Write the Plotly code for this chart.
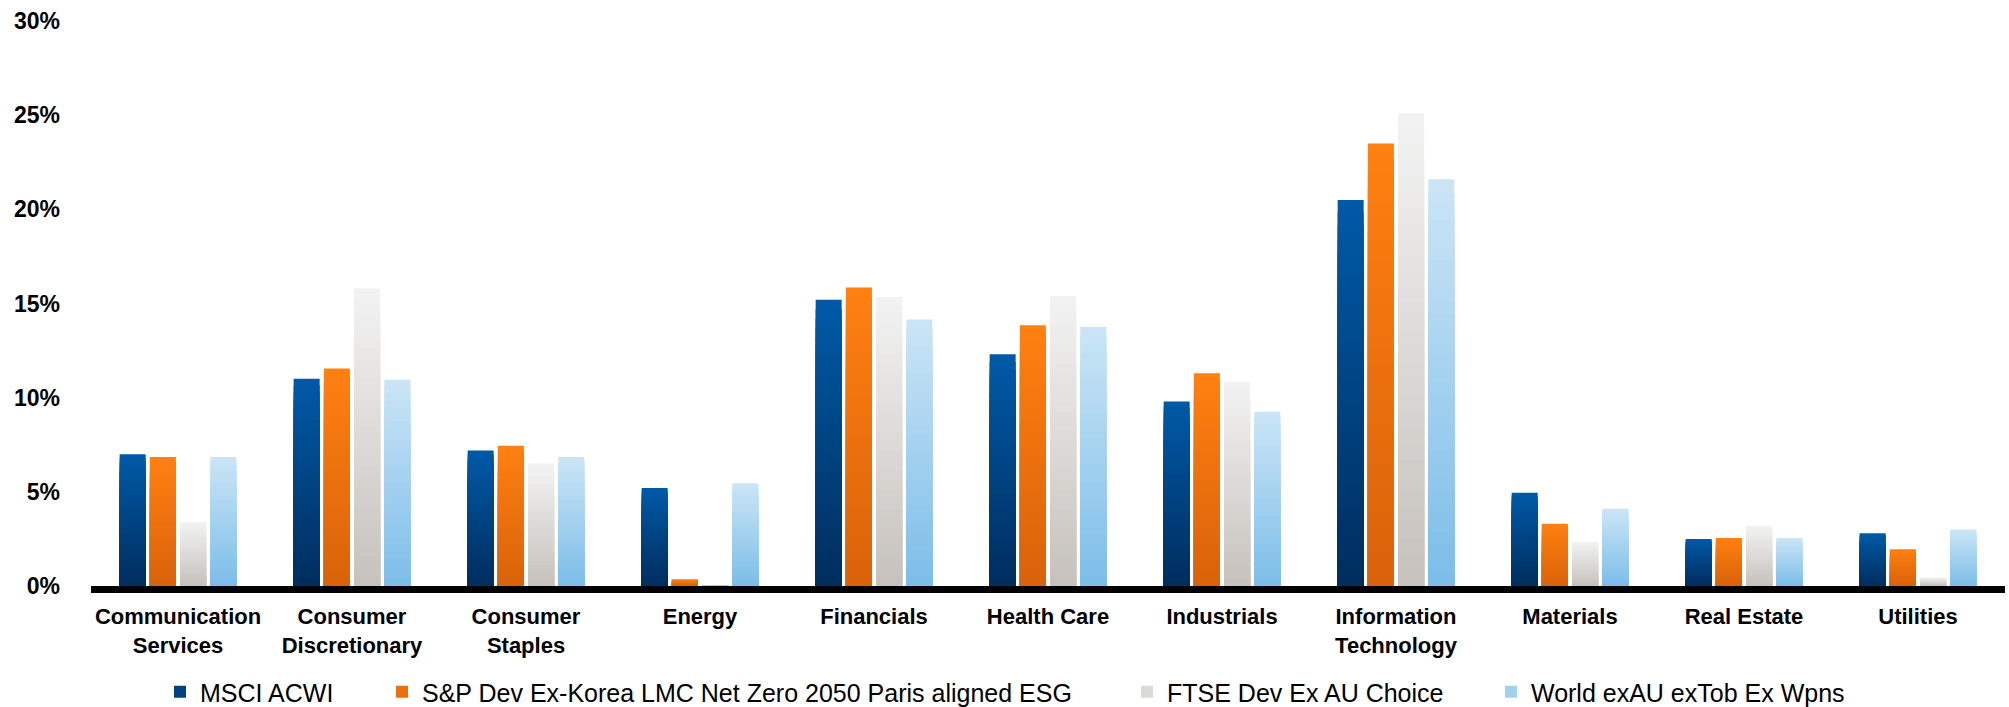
import plotly.graph_objects as go

categories = ["Communication<br>Services", "Consumer<br>Discretionary", "Consumer<br>Staples",
              "Energy", "Financials", "Health Care", "Industrials",
              "Information<br>Technology", "Materials", "Real Estate", "Utilities"]

series_names = ["MSCI ACWI",
                "S&P Dev Ex-Korea LMC Net Zero 2050 Paris aligned ESG",
                "FTSE Dev Ex AU Choice",
                "World exAU exTob Ex Wpns"]

msci_acwi = [7.0, 11.0, 7.2, 5.2, 15.2, 12.3, 9.8, 20.5, 4.95, 2.5, 2.8]
sp_net_zero = [6.85, 11.55, 7.45, 0.35, 15.85, 13.85, 11.3, 23.5, 3.3, 2.55, 1.95]
ftse_choice = [3.4, 15.8, 6.5, 0.05, 15.35, 15.4, 10.85, 25.1, 2.35, 3.2, 0.45]
world_ex = [6.85, 10.95, 6.85, 5.45, 14.15, 13.75, 9.25, 21.6, 4.1, 2.55, 3.0]

y_ticks = [0, 5, 10, 15, 20, 25, 30]
y_tick_labels = ["0%", "5%", "10%", "15%", "20%", "25%", "30%"]

series_values = [msci_acwi, sp_net_zero, ftse_choice, world_ex]
# (top colour, bottom colour) for vertical gradient
gradients = [((0, 90, 168), (0, 45, 94)),
             ((255, 128, 17), (217, 98, 10)),
             ((243, 243, 243), (198, 193, 188)),
             ((203, 229, 246), (124, 189, 232))]

W, H = 2009, 707
L, R, T, B = 91, 4, 21, 121
plot_w = W - L - R
plot_h = H - T - B

# legend text starts (px) in reference
legend_text_x = [200, 422, 1167, 1531]

N = 30
fig = go.Figure()
for si, (name, vals, (top, bot)) in enumerate(zip(series_names, series_values, gradients)):
    leg_id = "legend" if si == 0 else f"legend{si + 1}"
    for k in range(N):
        frac = (N - k) / N
        t = (N - k - 0.5) / N
        col = tuple(round(bot[c] + (top[c] - bot[c]) * t) for c in range(3))
        fig.add_trace(go.Bar(
            x=categories,
            y=[v * frac for v in vals],
            name=name,
            offsetgroup=str(si),
            marker=dict(color=f"rgb{col}", line=dict(width=0)),
            showlegend=(k == N // 2),
            legend=leg_id,
            hoverinfo="skip",
        ))

layout_legends = {}
for si in range(4):
    key = "legend" if si == 0 else f"legend{si + 1}"
    item_start = legend_text_x[si] - 40
    layout_legends[key] = dict(
        orientation="h",
        x=(item_start - L) / plot_w,
        xanchor="left",
        y=(T + plot_h - 692) / plot_h,
        yanchor="middle",
        font=dict(family="Liberation Sans, Arial, sans-serif", size=25, color="#000000"),
        bgcolor="rgba(0,0,0,0)",
        borderwidth=0,
        itemclick=False,
    )

fig.update_layout(
    width=W, height=H,
    margin=dict(l=L, r=R, t=T, b=B, pad=0, autoexpand=False),
    paper_bgcolor="white",
    plot_bgcolor="white",
    barmode="group",
    bargap=0.305,
    bargroupgap=0.14,
    font=dict(family="Liberation Sans, Arial, sans-serif", color="#000000"),
    **layout_legends,
)

fig.update_xaxes(
    showline=True, linecolor="#000000", linewidth=7,
    showgrid=False, zeroline=False, ticks="", automargin=False,
    tickfont=dict(family="Liberation Sans, Arial, sans-serif", size=22, weight="bold", color="#000000"),
    ticklabelstandoff=5,
)
fig.update_yaxes(
    range=[0, 30],
    tickvals=y_ticks, ticktext=y_tick_labels,
    showline=False, showgrid=False, zeroline=False, ticks="", automargin=False,
    tickfont=dict(family="Liberation Sans, Arial, sans-serif", size=23, weight="bold", color="#000000"),
    ticklabelstandoff=30,
)

fig.write_html("out.html")
